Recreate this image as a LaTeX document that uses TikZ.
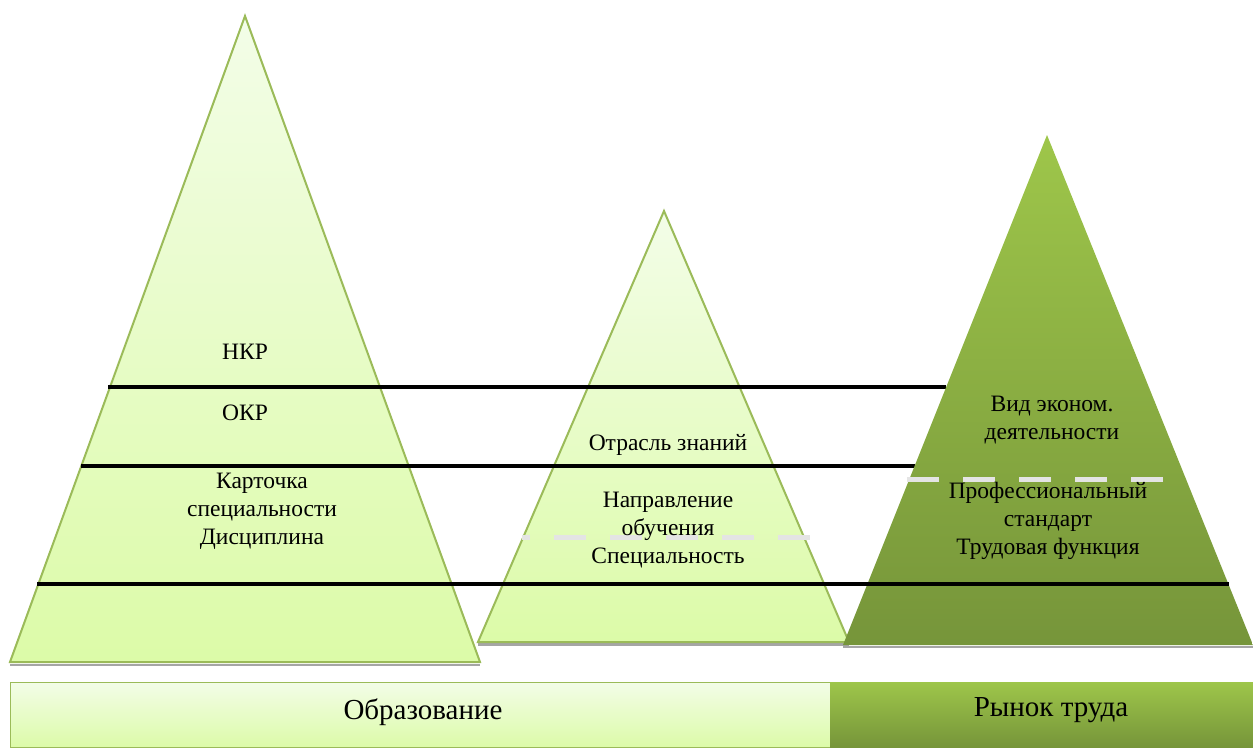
\documentclass[tikz,border=0pt]{standalone}
\usepackage{fontspec}
\setmainfont{Liberation Serif}
\definecolor{edgegreen}{RGB}{155,187,89}
\definecolor{paleTop}{RGB}{243,253,232}
\definecolor{paleBot}{RGB}{220,251,168}
\definecolor{oliveTop}{RGB}{158,198,74}
\definecolor{oliveBot}{RGB}{118,149,58}
\definecolor{dashgray}{RGB}{228,228,228}
\definecolor{shadowgray}{RGB}{165,165,165}
\begin{document}
\begin{tikzpicture}[x=1pt,y=-1pt,
  pale/.style={draw=edgegreen, line width=2pt, line join=miter, top color=paleTop, bottom color=paleBot},
  olive/.style={draw=none, top color=oliveTop, bottom color=oliveBot},
  shadowline/.style={draw=shadowgray, line width=2.5pt},
  level/.style={draw=black, line width=3.6pt},
  sep/.style={draw=dashgray, line width=5pt, dash pattern=on 32pt off 24pt},
  lbl/.style={font=\fontsize{23.5}{28}\selectfont, align=center, inner sep=0pt, text=black},
  barlbl/.style={font=\fontsize{29}{32}\selectfont, inner sep=0pt, text=black}]
\useasboundingbox (0,0) rectangle (1253,747);

% triangle corners
\coordinate (La) at (245,16);  \coordinate (Ll) at (10,662);  \coordinate (Lr) at (480,662);
\coordinate (Ma) at (664,211); \coordinate (Ml) at (478,642); \coordinate (Mr) at (849,642);
\coordinate (Ra) at (1047,135);\coordinate (Rl) at (843,645); \coordinate (Rr) at (1253,645);

% drop shadows just below the bases (yshift acts on the page, so negative is down)
\path[shadowline] ([yshift=-3pt]Ll) -- ([yshift=-3pt]Lr);
\path[shadowline] ([yshift=-2.5pt]Ml) -- ([yshift=-2.5pt]Mr);
\path[shadowline] ([yshift=-2pt]Rl) -- ([yshift=-2pt]Rr);

% pyramids
\path[pale] (La) -- (Lr) -- (Ll) -- cycle;
\path[pale] (Ma) -- (Mr) -- (Ml) -- cycle;

% level borders (upper two end at the market pyramid)
\coordinate (h1a) at (108,387); \coordinate (h1b) at (946,387);
\coordinate (h2a) at (81,466);  \coordinate (h2b) at (915,466);
\coordinate (h3a) at (37,584);  \coordinate (h3b) at (1229,584);
\path[level] (h1a) -- (h1b);
\path[level] (h2a) -- (h2b);

\path[olive] (Ra) -- (Rr) -- (Rl) -- cycle;
\path[level] (h3a) -- (h3b);

% light dashed separators
\coordinate (d1a) at (522,537); \coordinate (d1b) at (810,537);
\coordinate (d2a) at (907,479); \coordinate (d2b) at (1163,479);
\path[sep, dash phase=24pt] (d1a) -- (d1b);
\path[sep] (d2a) -- (d2b);

% labels
\node[lbl] (nkr) at (245,352) {НКР};
\node[lbl] (okr) at (245,413) {ОКР};
\node[lbl] (kart) at (262,511) {Карточка\\специальности\\Дисциплина};
\node[lbl] (otr) at (668,445) {Отрасль знаний};
\node[lbl] (napr) at (668,530) {Направление\\обучения\\Специальность};
\node[lbl] (vid) at (1052,420) {Вид эконом.\\деятельности};
\node[lbl] (prof) at (1048,521) {Профессиональный\\стандарт\\Трудовая функция};

% bottom bars
\path[draw=edgegreen, line width=1pt, top color=paleTop, bottom color=paleBot] (10,682) rectangle (830,747);
\path[olive] (830,682) rectangle (1253,747);
\node[barlbl] (edu) at (423,712) {Образование};
\node[barlbl] (mkt) at (1051,710) {Рынок труда};
\end{tikzpicture}
\end{document}
